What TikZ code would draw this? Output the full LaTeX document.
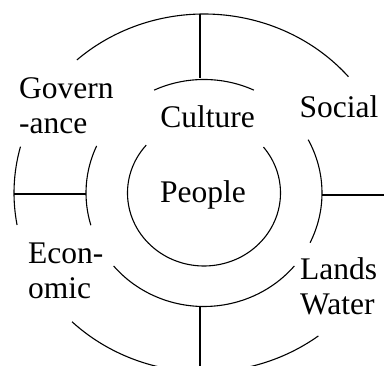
\documentclass[tikz,border=0pt]{standalone}
\usepackage{fontspec}
\setmainfont{Liberation Serif}
\begin{document}
\begin{tikzpicture}[x=1pt,y=1pt,
  ring/.style={line width=1.1pt},
  spoke/.style={line width=1.1pt},
  lbl/.style={inner sep=0pt, font=\fontsize{31.5}{35}\selectfont, align=left}]
\useasboundingbox (0,0) rectangle (384,366);
\clip (0,0) rectangle (384,366);
\coordinate (C) at (204,173);
% inner ring (People)
\draw[ring] ([shift={(139:76.5 and 73)}]C) arc[start angle=139, end angle=399, x radius=76.5, y radius=73];
% middle ring
\draw[ring] ([shift={(65:118 and 113.5)}]C) arc[start angle=65, end angle=115, x radius=118, y radius=113.5];
\draw[ring] ([shift={(-26:118 and 113.5)}]C) arc[start angle=-26, end angle=28, x radius=118, y radius=113.5];
\draw[ring] ([shift={(155.5:118 and 113.5)}]C) arc[start angle=155.5, end angle=196.5, x radius=118, y radius=113.5];
\draw[ring] ([shift={(220:118 and 113.5)}]C) arc[start angle=220, end angle=320, x radius=118, y radius=113.5];
% outer ring
\draw[ring] ([shift={(40.5:190 and 179)}]C) arc[start angle=40.5, end angle=132, x radius=190, y radius=179];
\draw[ring] ([shift={(165:190 and 179)}]C) arc[start angle=165, end angle=190.3, x radius=190, y radius=179];
\draw[ring] ([shift={(226:190 and 179)}]C) arc[start angle=226, end angle=307, x radius=190, y radius=179];
\draw[ring] ([shift={(-15.5:190 and 179)}]C) arc[start angle=-15.5, end angle=16.5, x radius=190, y radius=179];
% spokes
\coordinate (tA) at (200,352);
\coordinate (tB) at (200,288);
\coordinate (bA) at (200,60);
\coordinate (bB) at (200,-8);
\coordinate (lA) at (14,172);
\coordinate (lB) at (86,172);
\coordinate (rA) at (322,171);
\coordinate (rB) at (396,171);
\draw[spoke] (tA) -- (tB);
\draw[spoke] (bA) -- (bB);
\draw[spoke] (lA) -- (lB);
\draw[spoke] (rA) -- (rB);
% labels (base anchor of a two-line node = baseline of its last line)
\node[lbl, anchor=base] (people) at (203,163) {People};
\node[lbl, anchor=base] (culture) at (207.5,238) {Culture};
\node[lbl, anchor=base] (social) at (339,248) {Social};
\node[lbl, anchor=base west] (gov) at (19,232) {Govern\\-ance};
\node[lbl, anchor=base west] (econ) at (28,67) {Econ-\\omic};
\node[lbl, anchor=base west] (lands) at (300,51) {Lands\\Water};
\end{tikzpicture}
\end{document}
